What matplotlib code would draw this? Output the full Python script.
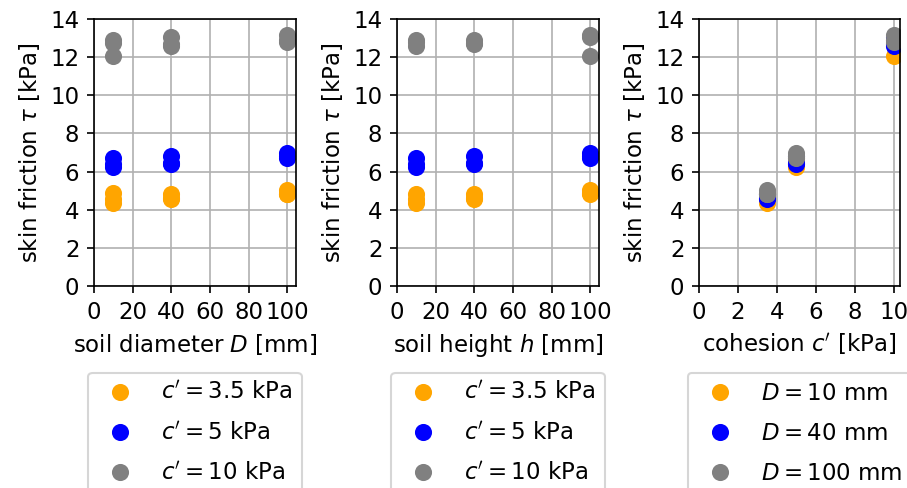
import numpy as np
import matplotlib
matplotlib.use('Agg')
import matplotlib.pyplot as plt

# parameter levels
D_vals = [10, 40, 100]      # soil diameter [mm]
h_vals = [10, 40, 100]      # soil height [mm]
c_vals = [3.5, 5, 10]       # cohesion [kPa]

# skin friction [kPa], rows = D, columns = h
tau_c35 = [[4.35, 4.55, 4.88],
           [4.55, 4.60, 4.85],
           [4.85, 4.85, 5.05]]
tau_c5 = [[6.25, 6.40, 6.72],
          [6.40, 6.45, 6.80],
          [6.72, 6.80, 6.97]]
tau_c10 = [[12.88, 12.75, 12.07],
           [12.58, 12.70, 13.05],
           [12.80, 12.90, 13.15]]

c_labels = ["$c'=3.5$ kPa", "$c'=5$ kPa", "$c'=10$ kPa"]
D_labels = ["$D=10$ mm", "$D=40$ mm", "$D=100$ mm"]
colors = ['orange', 'blue', 'grey']

tau = np.array([tau_c35, tau_c5, tau_c10])   # [c, D, h]
ms = 7.2
plt.rcParams['font.size'] = 11

fig = plt.figure(figsize=(907/150, 488/150), dpi=150)
w, hgt = 0.2227, 0.5471
ax1 = fig.add_axes([0.1036, 0.4139, w, hgt])
ax2 = fig.add_axes([0.4377, 0.4139, w, hgt])
ax3 = fig.add_axes([0.7707, 0.4139, 0.2216, hgt])

# panel 1: vs diameter
for i in range(3):
    x = np.repeat(D_vals, 3)
    y = tau[i].flatten()
    ax1.plot(x, y, 'o', color=colors[i], ms=ms, label=c_labels[i])
ax1.set_xlabel('soil diameter $D$ [mm]')

# panel 2: vs height
for i in range(3):
    x = np.tile(h_vals, 3)
    y = tau[i].flatten()
    ax2.plot(x, y, 'o', color=colors[i], ms=ms, label=c_labels[i])
ax2.set_xlabel('soil height $h$ [mm]')

# panel 3: vs cohesion, coloured by D
for j in range(3):
    x = np.repeat(c_vals, 3)
    y = tau[:, j, :].flatten()
    ax3.plot(x, y, 'o', color=colors[j], ms=ms, label=D_labels[j])
ax3.set_xlabel("cohesion $c'$ [kPa]")

for ax in (ax1, ax2, ax3):
    ax.set_ylim(0, 14)
    ax.set_yticks(np.arange(0, 15, 2))
    ax.set_xlim(left=0)
    ax.set_ylabel(r'skin friction $\tau$ [kPa]')
    ax.grid(True)
    ax.legend(loc='upper center', bbox_to_anchor=(0.5, -0.282),
              labelspacing=0.75)

ax1.set_xticks(np.arange(0, 101, 20))
ax2.set_xticks(np.arange(0, 101, 20))
ax3.set_xticks(np.arange(0, 11, 2))

fig.savefig('out.png', dpi=150)
